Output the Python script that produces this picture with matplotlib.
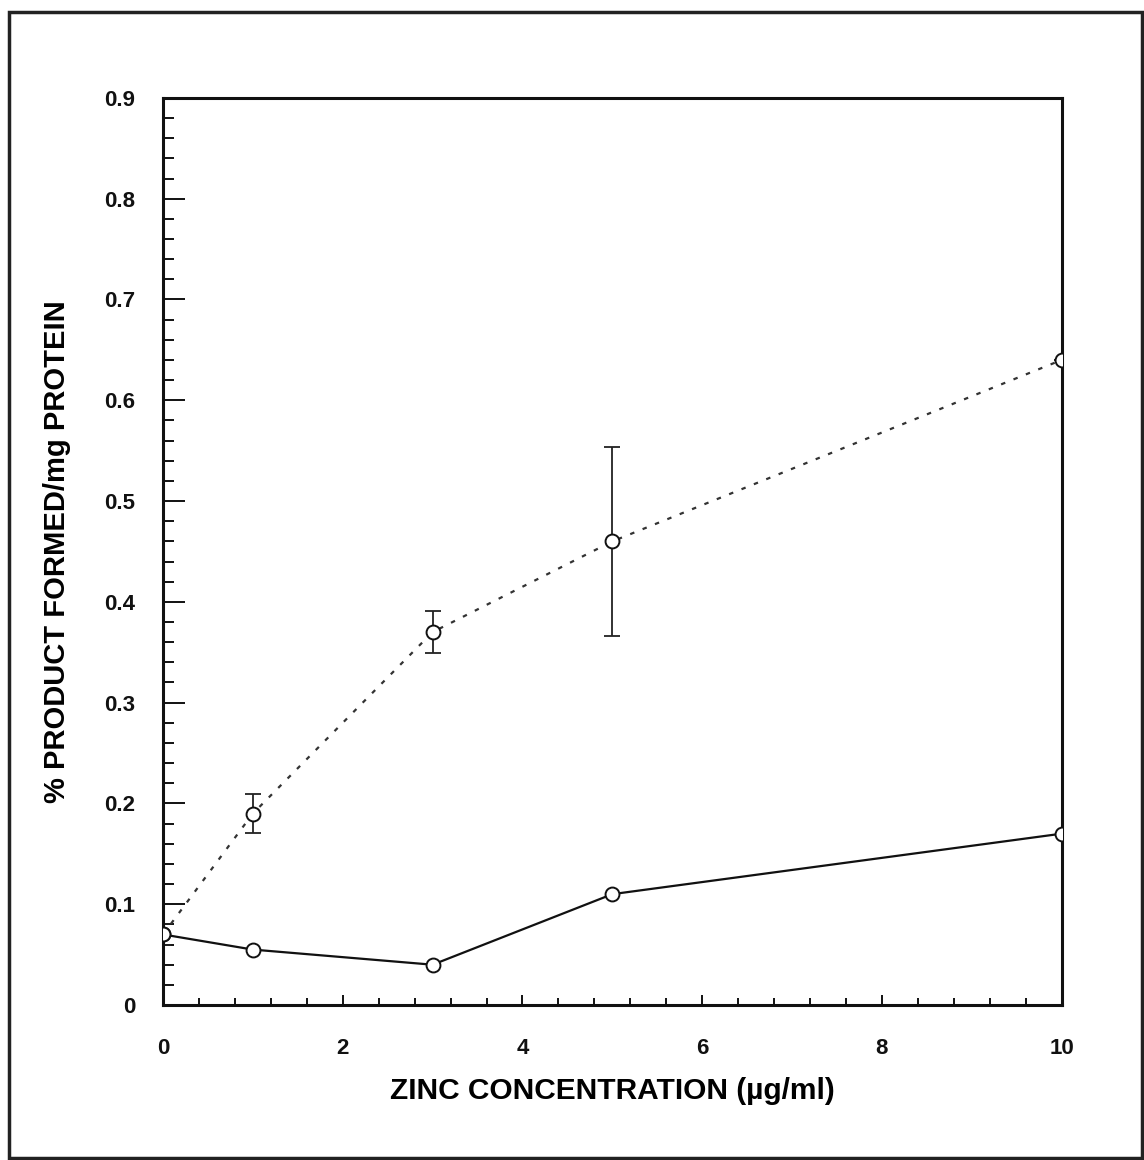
import numpy as np
import matplotlib.pyplot as plt
from matplotlib.patches import Rectangle
from matplotlib.ticker import MultipleLocator

plt.rcParams['font.family'] = ['Liberation Sans', 'DejaVu Sans']

zinc = [0, 1, 3, 5, 10]

# dotted series, with error bars
dotted_y = [0.07, 0.19, 0.37, 0.46, 0.64]
dotted_err = [0.01, 0.019, 0.021, 0.094, 0.0]

# solid series
solid_y = [0.07, 0.055, 0.04, 0.11, 0.17]

fig = plt.figure(figsize=(11.44, 11.6), dpi=100)
ax = fig.add_axes([0.1425, 0.1336, 0.7855, 0.782])

ax.errorbar(zinc, dotted_y, yerr=dotted_err, fmt='none', ecolor='#222222',
            elinewidth=1.3, capsize=6, capthick=1.3, zorder=2)
ax.plot(zinc, dotted_y, color='#333333', lw=1.6, linestyle=(0, (2, 4)),
        marker='o', markersize=10, markerfacecolor='white',
        markeredgecolor='#111111', markeredgewidth=1.4, zorder=3)
ax.plot(zinc, solid_y, color='#111111', lw=1.6, linestyle='-',
        marker='o', markersize=10, markerfacecolor='white',
        markeredgecolor='#111111', markeredgewidth=1.4, zorder=3)

ax.set_xlim(0, 10)
ax.set_ylim(0, 0.9)
ax.xaxis.set_major_locator(MultipleLocator(2))
ax.xaxis.set_minor_locator(MultipleLocator(0.4))
ax.yaxis.set_major_locator(MultipleLocator(0.1))
ax.yaxis.set_minor_locator(MultipleLocator(0.02))
ax.yaxis.set_major_formatter(plt.FuncFormatter(lambda v, p: '0' if v == 0 else f'{v:.1f}'))

ax.tick_params(which='both', direction='in', right=False, top=False,
               labelsize=16, width=1.4, colors='#111111')
ax.tick_params(axis='y', which='major', length=16, pad=20)
ax.tick_params(axis='y', which='minor', length=8)
ax.tick_params(axis='x', which='major', length=7, pad=24)
ax.tick_params(axis='x', which='minor', length=5)
for lab in ax.get_xticklabels() + ax.get_yticklabels():
    lab.set_fontweight('bold')

for s in ax.spines.values():
    s.set_linewidth(2.2)
    s.set_color('#111111')

ax.set_xlabel('ZINC CONCENTRATION (µg/ml)', fontsize=21.5, fontweight='bold',
              labelpad=13)
ax.set_ylabel('% PRODUCT FORMED/mg PROTEIN', fontsize=21, fontweight='bold',
              labelpad=24)

# outer frame of the scanned figure
fig.patches.append(Rectangle((0.008, 0.002), 0.990, 0.988, transform=fig.transFigure,
                             fill=False, lw=2.5, edgecolor='#222222'))

fig.savefig('out.png', dpi=100)
